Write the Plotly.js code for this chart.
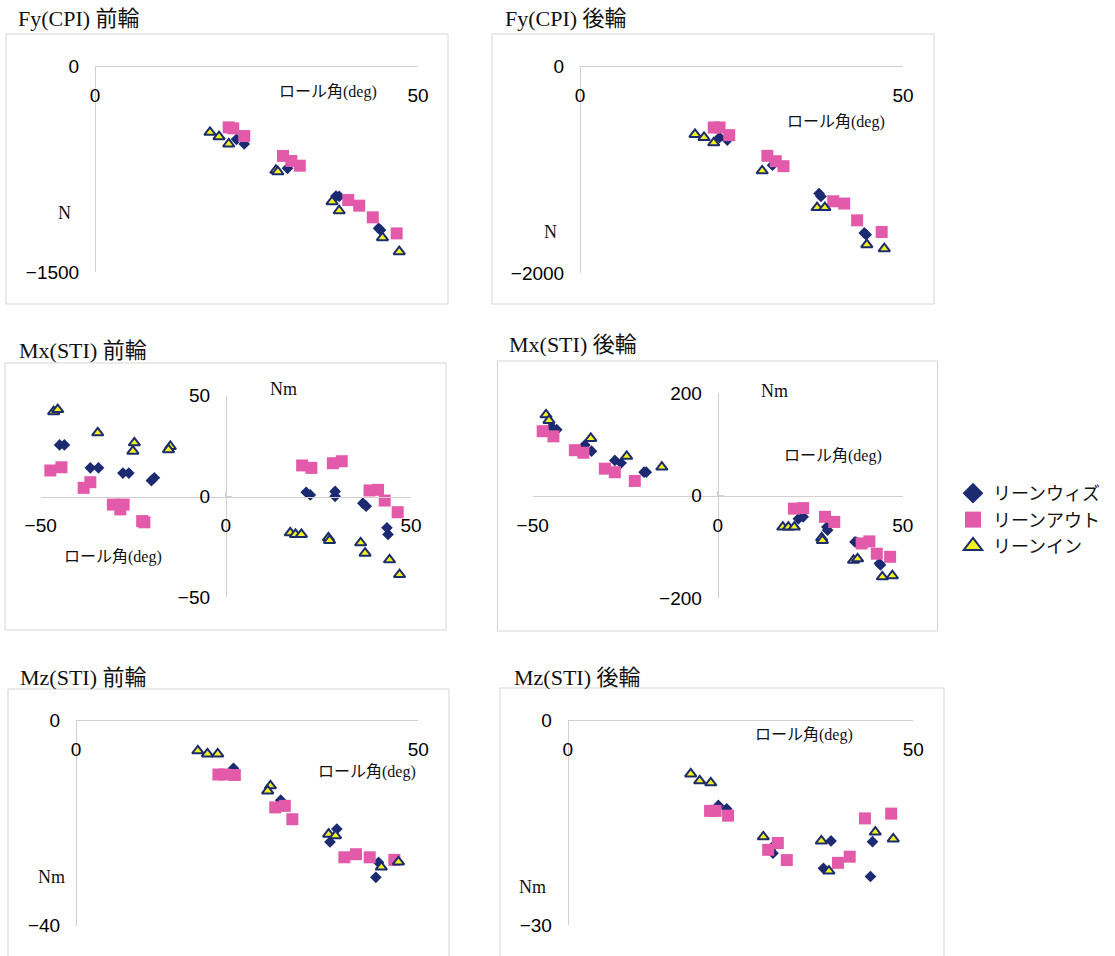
<!DOCTYPE html>
<html>
<head>
<meta charset="utf-8">
<script src="https://cdn.plot.ly/plotly-3.0.1.min.js"></script>
<style>
  html, body { margin: 0; padding: 0; background: #ffffff; }
  #chart { width: 1115px; height: 956px; }
</style>
</head>
<body>
<div id="chart"></div>
<script>
// Series names (legend)
const seriesNames = ['リーンウィズ', 'リーンアウト', 'リーンイン'];

// Panel titles and axis labels
const panelTitles = ['Fy(CPI) 前輪', 'Fy(CPI) 後輪', 'Mx(STI) 前輪', 'Mx(STI) 後輪', 'Mz(STI) 前輪', 'Mz(STI) 後輪'];
const yUnitLabels = ['N', 'N', 'Nm', 'Nm', 'Nm', 'Nm'];
const xAxisLabel = 'ロール角(deg)';

// Axis ranges and tick values
const xRanges = [[0, 50], [0, 50], [-50, 50], [-50, 50], [0, 50], [0, 50]];
const yRanges = [[-1500, 0], [-2000, 0], [-50, 50], [-200, 200], [-40, 0], [-30, 0]];
const xTicks = [[0, 50], [0, 50], [-50, 0, 50], [-50, 0, 50], [0, 50], [0, 50]];
const yTicks = [[-1500, 0], [-2000, 0], [-50, 0, 50], [-200, 0, 200], [-40, 0], [-30, 0]];

// ---- Fy(CPI) front wheel [N] vs roll angle [deg]
const fyFrontWithX = [21.9, 23.1, 29.8, 37.3, 37.8, 43.9, 44.2];
const fyFrontWithY = [-534, -568, -745, -947, -950, -1182, -1195];
const fyFrontOutX  = [20.7, 21.4, 23.1, 29.1, 30.4, 31.7, 39.2, 40.9, 43.0, 46.7];
const fyFrontOutY  = [-447, -454, -510, -655, -692, -726, -976, -1017, -1102, -1219];
const fyFrontInX   = [17.8, 19.2, 20.7, 28.0, 28.3, 36.7, 37.8, 44.5, 47.1];
const fyFrontInY   = [-483, -515, -568, -760, -770, -988, -1054, -1250, -1352];

// ---- Fy(CPI) rear wheel [N]
const fyRearWithX = [21.6, 22.8, 29.8, 37.0, 37.3, 44.0, 44.3];
const fyRearWithY = [-690, -716, -958, -1232, -1260, -1613, -1630];
const fyRearOutX  = [20.7, 21.6, 23.1, 29.0, 30.3, 31.5, 39.2, 40.9, 42.9, 46.7];
const fyRearOutY  = [-594, -594, -668, -868, -920, -968, -1307, -1329, -1491, -1604];
const fyRearInX   = [17.8, 19.2, 20.7, 28.2, 36.7, 37.9, 44.4, 47.1];
const fyRearInY   = [-661, -690, -742, -1013, -1368, -1368, -1726, -1765];

// ---- Mx(STI) front wheel [Nm]
const mxFrontWithX = [-44.9, -43.6, -36.6, -34.4, -27.8, -26.2, -20.1, -19.3, 21.7, 22.8, 29.5, 29.5, 37.0, 37.9, 43.5, 43.8];
const mxFrontWithY = [25.6, 25.6, 14.2, 14.2, 11.6, 11.6, 7.9, 9.3, 2.1, 0.8, 2.5, 0.1, -3.3, -4.8, -15.5, -18.8];
const mxFrontOutX  = [-47.4, -44.4, -38.4, -36.6, -30.5, -27.6, -28.5, -22.6, -22.0, 20.6, 23.1, 28.9, 31.3, 38.8, 41.1, 42.9, 46.4];
const mxFrontOutY  = [12.9, 14.5, 4.3, 7.1, -4.0, -4.0, -6.4, -12.2, -12.8, 15.4, 14.2, 16.5, 17.5, 3.0, 3.3, -2.0, -7.8];
const mxFrontInX   = [-46.5, -45.4, -34.6, -24.7, -25.1, -15.0, -15.5, 17.4, 18.8, 20.4, 27.7, 28.0, 36.4, 37.6, 44.2, 46.9];
const mxFrontInY   = [42.1, 43.1, 31.6, 26.6, 22.5, 24.8, 23.2, -18.0, -18.8, -18.8, -20.5, -21.8, -23.0, -28.1, -31.4, -38.7];

// ---- Mx(STI) rear wheel [Nm]
const mxRearWithX = [-44.9, -43.5, -35.9, -34.1, -27.8, -26.1, -19.9, -19.3, 21.8, 23.1, 29.5, 29.7, 37.1, 37.6, 43.7, 44.0];
const mxRearWithY = [134, 129, 99, 87, 69, 64, 46, 46, -45, -41, -61, -67, -90, -91, -132, -135];
const mxRearOutX  = [-47.3, -44.4, -38.6, -36.3, -30.5, -27.8, -22.4, 20.6, 23.1, 29.0, 31.5, 38.9, 41.0, 43.0, 46.6];
const mxRearOutY  = [126, 116, 89, 84, 53, 46, 29, -25, -24, -41, -51, -93, -89, -113, -119];
const mxRearInX   = [-46.4, -45.6, -34.3, -24.6, -15.1, 17.6, 19.1, 20.7, 28.1, 28.3, 36.7, 37.8, 44.5, 47.2];
const mxRearInY   = [158, 147, 112, 77, 56, -61, -61, -61, -82, -87, -126, -123, -158, -156];

// ---- Mz(STI) front wheel [Nm]
const mzFrontWithX = [23.0, 22.5, 29.9, 29.7, 38.1, 37.1, 44.2, 43.8];
const mzFrontWithY = [-9.4, -10.7, -15.6, -16.9, -21.2, -23.7, -27.7, -30.6];
const mzFrontOutX  = [20.8, 21.7, 23.2, 29.1, 30.5, 31.6, 39.2, 40.9, 42.9, 46.5];
const mzFrontOutY  = [-10.6, -10.6, -10.7, -17.0, -16.7, -19.3, -26.7, -26.1, -26.7, -27.2];
const mzFrontInX   = [17.8, 19.2, 20.7, 28.4, 28.0, 36.9, 37.9, 44.6, 47.1];
const mzFrontInY   = [-6.0, -6.6, -6.6, -12.8, -13.8, -22.2, -22.5, -28.6, -27.6];

// ---- Mz(STI) rear wheel [Nm]
const mzRearWithX = [21.8, 23.0, 29.7, 29.5, 37.0, 38.1, 44.1, 43.8];
const mzRearWithY = [-12.5, -13.0, -19.5, -18.7, -21.7, -17.7, -17.8, -22.9];
const mzRearOutX  = [20.6, 21.4, 23.2, 29.0, 30.4, 31.7, 39.1, 40.8, 43.0, 46.8];
const mzRearOutY  = [-13.3, -13.3, -14.0, -19.0, -18.0, -20.5, -20.9, -20.0, -14.4, -13.7];
const mzRearInX   = [17.8, 19.1, 20.7, 28.3, 36.7, 37.8, 44.5, 47.1];
const mzRearInY   = [-7.9, -8.9, -9.2, -17.1, -17.7, -22.1, -16.4, -17.4];

const panelData = [
  [[fyFrontWithX, fyFrontWithY], [fyFrontOutX, fyFrontOutY], [fyFrontInX, fyFrontInY]],
  [[fyRearWithX, fyRearWithY], [fyRearOutX, fyRearOutY], [fyRearInX, fyRearInY]],
  [[mxFrontWithX, mxFrontWithY], [mxFrontOutX, mxFrontOutY], [mxFrontInX, mxFrontInY]],
  [[mxRearWithX, mxRearWithY], [mxRearOutX, mxRearOutY], [mxRearInX, mxRearInY]],
  [[mzFrontWithX, mzFrontWithY], [mzFrontOutX, mzFrontOutY], [mzFrontInX, mzFrontInY]],
  [[mzRearWithX, mzRearWithY], [mzRearOutX, mzRearOutY], [mzRearInX, mzRearInY]]
];

// ---------------- layout geometry (pixels in a 1115 x 956 page) ----------------
const W = 1115, H = 956;
const fx = v => v / W;
const fy = v => 1 - v / H;

// plot-area pixel extents: [left, right] for x range, [bottom, top] for y range
const plotX = [[95, 418], [580, 903], [40.7, 411], [532.7, 902.7], [76, 418.3], [567.7, 913.3]];
const plotY = [[272, 66], [273, 66], [597.3, 395.7], [598.3, 393.3], [925.7, 720], [925, 720]];
// frame boxes: [x0, y0, x1, y1]
const frames = [[6, 34, 448, 304], [492, 34, 934, 304], [5, 363, 446, 630],
                [497.5, 361, 937.5, 631], [8, 689, 449, 1000], [500, 688, 944, 1000]];
const titlePos = [[16, 18], [503, 18], [17, 350], [507, 345], [18, 677], [512, 677]];
const unitPos = [[64, 213], [550, 232], [283, 389], [774, 391], [51, 877], [532, 887]];
const xLabelPos = [[328, 92], [836, 122], [113, 557], [833, 456], [367, 772], [804, 735]];

const markerStyles = [
  { symbol: 'diamond', size: 9, color: '#1c2a72', line: { width: 0 } },
  { symbol: 'square', size: 12, color: '#e25aa9', line: { width: 0 } },
  { symbol: 'triangle-up', size: 10, color: '#f4f21e', line: { width: 2, color: '#1c2c6c' } }
];

const axisColor = '#d7cfcf';
const tickFont = { family: '"Liberation Sans", Arial, sans-serif', size: 19, color: '#000000' };
const serifFont = '"Liberation Serif", "Noto Sans CJK JP", serif';

const traces = [];
const layout = {
  width: W, height: H,
  margin: { l: 0, r: 0, t: 0, b: 0 },
  paper_bgcolor: '#ffffff', plot_bgcolor: 'rgba(0,0,0,0)',
  showlegend: true,
  legend: {
    x: fx(953), y: fy(475), xanchor: 'left', yanchor: 'top',
    bgcolor: 'rgba(0,0,0,0)',
    font: { family: '"Noto Sans CJK JP", sans-serif', size: 18, color: '#111111' },
    itemsizing: 'trace', tracegroupgap: 0
  },
  shapes: [], annotations: []
};

for (let i = 0; i < 6; i++) {
  const n = i === 0 ? '' : String(i + 1);
  const xd = [fx(plotX[i][0]), fx(plotX[i][1])];
  const yd = [fy(plotY[i][0]), fy(plotY[i][1])];
  const xr = xRanges[i], yr = yRanges[i];
  // paper positions where the data zero lines cross
  const yZero = yd[0] + (0 - yr[0]) / (yr[1] - yr[0]) * (yd[1] - yd[0]);
  const xZero = xd[0] + (0 - xr[0]) / (xr[1] - xr[0]) * (xd[1] - xd[0]);

  layout['xaxis' + n] = {
    domain: xd, range: xr, anchor: 'free', position: yZero, side: 'bottom',
    showline: true, linecolor: axisColor, linewidth: 1,
    ticks: 'inside', ticklen: 5, tickcolor: axisColor, tickwidth: 1,
    tickvals: xTicks[i], showgrid: false, zeroline: false,
    tickfont: tickFont, ticklabelstandoff: 12, fixedrange: true
  };
  layout['yaxis' + n] = {
    domain: yd, range: yr, anchor: 'free', position: xZero, side: 'left',
    showline: true, linecolor: axisColor, linewidth: 1,
    ticks: 'inside', ticklen: 5, tickcolor: axisColor, tickwidth: 1,
    tickvals: yTicks[i], showgrid: false, zeroline: false,
    tickfont: tickFont, ticklabelstandoff: 12, fixedrange: true
  };

  for (let s = 0; s < 3; s++) {
    traces.push({
      type: 'scatter', mode: 'markers',
      x: panelData[i][s][0], y: panelData[i][s][1],
      xaxis: 'x' + n, yaxis: 'y' + n,
      name: seriesNames[s], showlegend: false, cliponaxis: false,
      marker: markerStyles[s], hoverinfo: 'x+y+name'
    });
  }

  const f = frames[i];
  layout.shapes.push({
    type: 'rect', xref: 'paper', yref: 'paper',
    x0: fx(f[0]), y0: fy(f[1]), x1: fx(f[2]), y1: fy(f[3]),
    line: { color: '#d9d3d3', width: 1 }, fillcolor: 'rgba(0,0,0,0)', layer: 'below'
  });

  layout.annotations.push({
    text: panelTitles[i], xref: 'paper', yref: 'paper',
    x: fx(titlePos[i][0]), y: fy(titlePos[i][1]), xanchor: 'left', yanchor: 'middle',
    showarrow: false, font: { family: serifFont, size: 22, color: '#111111' }
  });
  layout.annotations.push({
    text: yUnitLabels[i], xref: 'paper', yref: 'paper',
    x: fx(unitPos[i][0]), y: fy(unitPos[i][1]), xanchor: 'center', yanchor: 'middle',
    showarrow: false, font: { family: serifFont, size: 18, color: '#111111' }
  });
  layout.annotations.push({
    text: xAxisLabel, xref: 'paper', yref: 'paper',
    x: fx(xLabelPos[i][0]), y: fy(xLabelPos[i][1]), xanchor: 'center', yanchor: 'middle',
    showarrow: false, font: { family: serifFont, size: 16, color: '#111111' }
  });
}

// legend entries with enlarged symbols
const legendStyles = [
  { symbol: 'diamond', size: 16, color: '#1c2a72', line: { width: 0 } },
  { symbol: 'square', size: 16, color: '#e25aa9', line: { width: 0 } },
  { symbol: 'triangle-up', size: 16, color: '#f4f21e', line: { width: 2, color: '#1c2c6c' } }
];
for (let s = 0; s < 3; s++) {
  traces.push({
    type: 'scatter', mode: 'markers', x: [null], y: [null],
    xaxis: 'x', yaxis: 'y', name: seriesNames[s], showlegend: true,
    marker: legendStyles[s], hoverinfo: 'skip'
  });
}

Plotly.newPlot('chart', traces, layout, { displayModeBar: false, staticPlot: true });
</script>
</body>
</html>
